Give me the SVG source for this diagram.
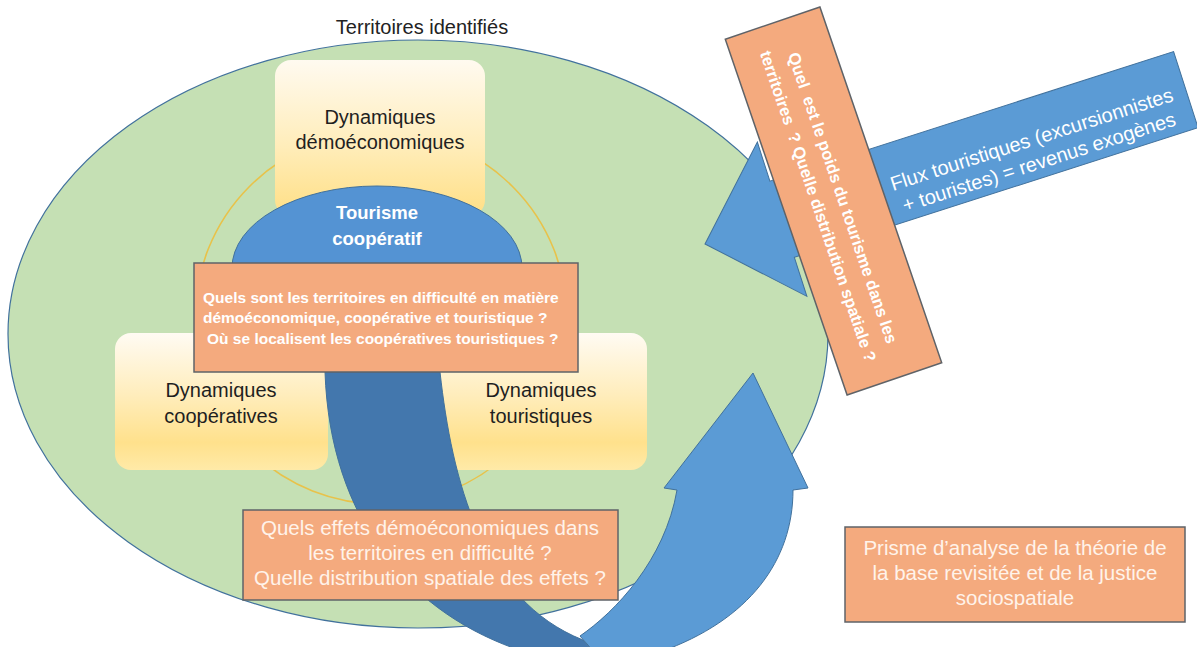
<svg xmlns="http://www.w3.org/2000/svg" width="1197" height="647" viewBox="0 0 1197 647">
  <defs>
    <linearGradient id="yelTop" x1="0" y1="0" x2="0" y2="1">
      <stop offset="0" stop-color="#FFFAF0"/>
      <stop offset="0.55" stop-color="#FFEDBA"/>
      <stop offset="1" stop-color="#FFDF85"/>
    </linearGradient>
    <linearGradient id="yelSide" x1="0" y1="0" x2="0" y2="1">
      <stop offset="0" stop-color="#FFFBF3"/>
      <stop offset="0.45" stop-color="#FFEDBC"/>
      <stop offset="0.8" stop-color="#FFE18C"/>
      <stop offset="1" stop-color="#FFEAA8"/>
    </linearGradient>
    <style>
      .lbl { font-family: "Liberation Sans", Arial, sans-serif; }
      .dark { fill: #1f1f1f; font-size: 20px; }
      .wb { fill: #ffffff; font-weight: bold; }
      .wr { fill: #FFF3EA; font-size: 20.5px; }
      .orange { fill: #F4AA7E; stroke: #5f6368; stroke-width: 1.5; }
      .blue { fill: #5B9BD5; stroke: #41719C; stroke-width: 1; }
      .blueDark { fill: #4377AD; stroke: #41719C; stroke-width: 1; }
      .ybox { stroke: none; }
    </style>
  </defs>

  <rect x="0" y="0" width="1197" height="647" fill="#ffffff"/>

  <g id="territoires">
    <ellipse cx="418" cy="334" rx="410" ry="294" fill="#C5E0B4" stroke="#41719C" stroke-width="1.2"/>
    <text class="lbl" x="422" y="34" text-anchor="middle" font-size="20" fill="#222">Territoires identifiés</text>
  </g>

  <g id="ring">
    <circle cx="381" cy="318" r="186" fill="none" stroke="#E8C24A" stroke-width="1.6"/>
  </g>

  <g id="dyn-demo">
    <rect class="ybox" x="275" y="60" width="210" height="156" rx="16" fill="url(#yelTop)"/>
    <text class="lbl dark" x="380" y="124" text-anchor="middle">Dynamiques</text>
    <text class="lbl dark" x="380" y="149" text-anchor="middle">démoéconomiques</text>
  </g>

  <g id="dyn-coop">
    <rect class="ybox" x="115" y="333" width="213" height="137" rx="16" fill="url(#yelSide)"/>
    <text class="lbl dark" x="221" y="397" text-anchor="middle">Dynamiques</text>
    <text class="lbl dark" x="221" y="423" text-anchor="middle">coopératives</text>
  </g>

  <g id="dyn-tour">
    <rect class="ybox" x="435" y="333" width="212" height="137" rx="16" fill="url(#yelSide)"/>
    <text class="lbl dark" x="541" y="397" text-anchor="middle">Dynamiques</text>
    <text class="lbl dark" x="541" y="423" text-anchor="middle">touristiques</text>
  </g>

  <g id="tourisme-coop">
    <ellipse cx="377" cy="268" rx="145" ry="82" fill="#5493D3" stroke="#41719C" stroke-width="1"/>
    <text class="lbl wb" x="377" y="219" text-anchor="middle" font-size="18.5">Tourisme</text>
    <text class="lbl wb" x="377" y="245" text-anchor="middle" font-size="18.5">coopératif</text>
  </g>

  <g id="connectors">
    <path class="blueDark" d="M325,372 L440,372 C452,480 482,600 583,640 L610,670 L530,670 L525,652 C410,615 330,520 325,372 Z"/>
    <path class="blue" d="M580,636 C615,612 665,560 677,490 L664,488 L753,373 L808,488 L793,490 C793,560 750,620 660,652 L620,670 L610,670 Z"/>
    <g transform="translate(705,244) rotate(-17.8)">
      <path class="blue" d="M0,0 L81,-81 L81,-40 L505,-40 L505,40 L81,40 L81,81 Z"/>
    </g>
  </g>

  <g id="q-territoires">
    <rect class="orange" x="194" y="263" width="384" height="109"/>
    <text class="lbl wb" font-size="15.5" x="203" y="302.5">Quels sont les territoires en difficulté en matière</text>
    <text class="lbl wb" font-size="15.5" x="203" y="322.5">démoéconomique, coopérative et touristique ?</text>
    <text class="lbl wb" font-size="15.5" x="207" y="343.5">Où se localisent les coopératives touristiques ?</text>
  </g>

  <g id="q-effets">
    <rect class="orange" x="243" y="510" width="375" height="90"/>
    <text class="lbl wr" x="430" y="535" text-anchor="middle">Quels effets démoéconomiques dans</text>
    <text class="lbl wr" x="430" y="560" text-anchor="middle">les territoires en difficulté ?</text>
    <text class="lbl wr" x="430" y="585" text-anchor="middle">Quelle distribution spatiale des effets ?</text>
  </g>

  <g id="flux">
    <g transform="translate(705,244) rotate(-17.8)">
      <text class="lbl" x="343" y="7" text-anchor="middle" font-size="20" fill="#FFFFFF">Flux touristiques (excursionnistes</text>
      <text class="lbl" x="343" y="31" text-anchor="middle" font-size="20" fill="#FFFFFF">+ touristes) = revenus exogènes</text>
    </g>
  </g>

  <g id="q-poids">
    <g transform="translate(833.5,201) rotate(71.1)">
      <rect class="orange" x="-188" y="-50" width="376" height="100"/>
      <text class="lbl wb" font-size="16.5" x="0" y="-4" text-anchor="middle" style="white-space:pre">Quel  est le poids du tourisme dans les</text>
      <text class="lbl wb" font-size="16.5" x="0" y="22" text-anchor="middle" style="white-space:pre">territoires  ? Quelle distribution spatiale ?</text>
    </g>
  </g>

  <g id="prisme">
    <rect class="orange" x="845" y="527" width="340" height="95"/>
    <text class="lbl wr" x="1015" y="555" text-anchor="middle">Prisme d’analyse de la théorie de</text>
    <text class="lbl wr" x="1015" y="580" text-anchor="middle">la base revisitée et de la justice</text>
    <text class="lbl wr" x="1015" y="605" text-anchor="middle">sociospatiale</text>
  </g>
</svg>
